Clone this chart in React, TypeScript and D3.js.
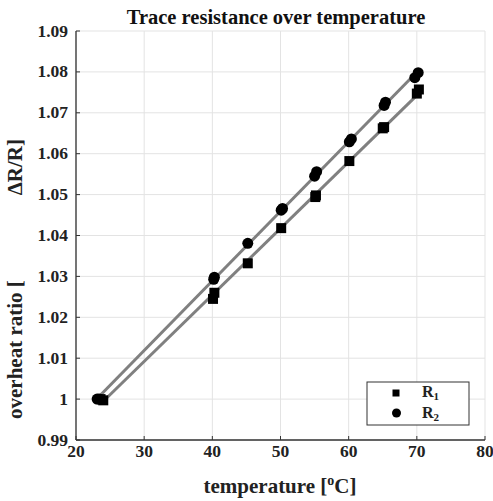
import React from "react";
import * as d3 from "d3";

const r1Temps = [23.6, 24.0, 40.1, 40.3, 45.2, 50.1, 55.1, 55.2, 60.1, 65.0, 65.2, 70.0, 70.3];
const r1Vals = [1.0, 0.9997, 1.0245, 1.026, 1.0332, 1.0418, 1.0494, 1.0498, 1.0582, 1.0662, 1.0665, 1.0747, 1.0757];
const r2Temps = [23.1, 23.4, 40.2, 40.3, 45.2, 50.1, 50.3, 55.0, 55.3, 60.1, 60.4, 65.2, 65.4, 69.7, 70.2];
const r2Vals = [1.0, 1.0, 1.0293, 1.0298, 1.0381, 1.0462, 1.0466, 1.0545, 1.0556, 1.0629, 1.0636, 1.0718, 1.0726, 1.0786, 1.0798];
const xTicks = [20, 30, 40, 50, 60, 70, 80];
const yTicks = [0.99, 1.0, 1.01, 1.02, 1.03, 1.04, 1.05, 1.06, 1.07, 1.08, 1.09];

const W = 493, H = 501;
const m = { left: 76, right: 8, top: 31, bottom: 61 };

function fit(xs: number[], ys: number[]) {
  const mx = d3.mean(xs)!, my = d3.mean(ys)!;
  let num = 0, den = 0;
  xs.forEach((x, i) => { num += (x - mx) * (ys[i] - my); den += (x - mx) ** 2; });
  const b = num / den;
  return { a: my - b * mx, b };
}

export default function App() {
  const x = d3.scaleLinear().domain([20, 80]).range([m.left, W - m.right]);
  const y = d3.scaleLinear().domain([0.99, 1.09]).range([H - m.bottom, m.top]);
  const font = "'Liberation Serif', 'Times New Roman', serif";
  const f1 = fit(r1Temps, r1Vals);
  const f2 = fit(r2Temps, r2Vals);
  const line = d3.line<[number, number]>().x(d => x(d[0])).y(d => y(d[1]));
  const x1 = d3.extent(r1Temps) as [number, number];
  const x2 = d3.extent(r2Temps) as [number, number];
  const l1 = line([[x1[0], f1.a + f1.b * x1[0]], [x1[1], f1.a + f1.b * x1[1]]]);
  const l2 = line([[x2[0], f2.a + f2.b * x2[0]], [x2[1], f2.a + f2.b * x2[1]]]);
  const x0 = m.left, xr = W - m.right, yb = H - m.bottom, yt = m.top;
  const sq = 10;
  return (
    <svg width={W} height={H} style={{ position: "absolute", left: 0, top: 0, background: "#fff" }} fontFamily={font} fontWeight="bold">
      {xTicks.map(t => (
        <line key={"gx" + t} x1={x(t)} x2={x(t)} y1={yt} y2={yb} stroke="#e3e3e3" strokeWidth={1} />
      ))}
      {yTicks.map(t => (
        <line key={"gy" + t} x1={x0} x2={xr} y1={y(t)} y2={y(t)} stroke="#e3e3e3" strokeWidth={1} />
      ))}
      <path d={l1 || ""} stroke="#808080" strokeWidth={3} fill="none" />
      <path d={l2 || ""} stroke="#808080" strokeWidth={3} fill="none" />
      {r1Temps.map((t, i) => (
        <rect key={"r1" + i} x={x(t) - sq / 2} y={y(r1Vals[i]) - sq / 2} width={sq} height={sq} fill="#000" />
      ))}
      {r2Temps.map((t, i) => (
        <circle key={"r2" + i} cx={x(t)} cy={y(r2Vals[i])} r={5.5} fill="#000" />
      ))}
      <line x1={x0} x2={x0} y1={yt} y2={yb} stroke="#333" strokeWidth={1.3} />
      <line x1={x0} x2={xr} y1={yb} y2={yb} stroke="#333" strokeWidth={1.3} />
      {xTicks.map(t => (
        <g key={"xt" + t}>
          <line x1={x(t)} x2={x(t)} y1={yb} y2={yb - 4} stroke="#333" strokeWidth={1} />
          <text x={x(t)} y={yb + 17} textAnchor="middle" fontSize={17.5} fill="#222">{t}</text>
        </g>
      ))}
      {yTicks.map(t => (
        <g key={"yt" + t}>
          <line x1={x0} x2={x0 + 4} y1={y(t)} y2={y(t)} stroke="#333" strokeWidth={1} />
          <text x={x0 - 8} y={y(t) + 5.5} textAnchor="end" fontSize={17.5} fill="#222">{t === 1 ? "1" : t.toFixed(2)}</text>
        </g>
      ))}
      <text x={276} y={24} textAnchor="middle" fontSize={20.5} fill="#111">Trace resistance over temperature</text>
      <text x={280} y={493} textAnchor="middle" fontSize={21} fill="#222">
        temperature [<tspan dy={-8} fontSize={14}>o</tspan><tspan dy={8}>C]</tspan>
      </text>
      <g transform="translate(22,0) rotate(-90)" fontSize={21} fill="#222">
        <text x={-419} y={0} textAnchor="start">overheat ratio [</text>
        <text x={-139} y={0} textAnchor="end">ΔR/R]</text>
      </g>
      <rect x={367} y={382} width={102} height={43} fill="#fff" stroke="#333" strokeWidth={1} />
      <rect x={392.5} y={389.5} width={7} height={7} fill="#000" />
      <text x={422} y={397} fontSize={16} fill="#222">R<tspan dy={3} fontSize={11}>1</tspan></text>
      <circle cx={396.5} cy={413} r={4.5} fill="#000" />
      <text x={422} y={418} fontSize={16} fill="#222">R<tspan dy={3} fontSize={11}>2</tspan></text>
    </svg>
  );
}
